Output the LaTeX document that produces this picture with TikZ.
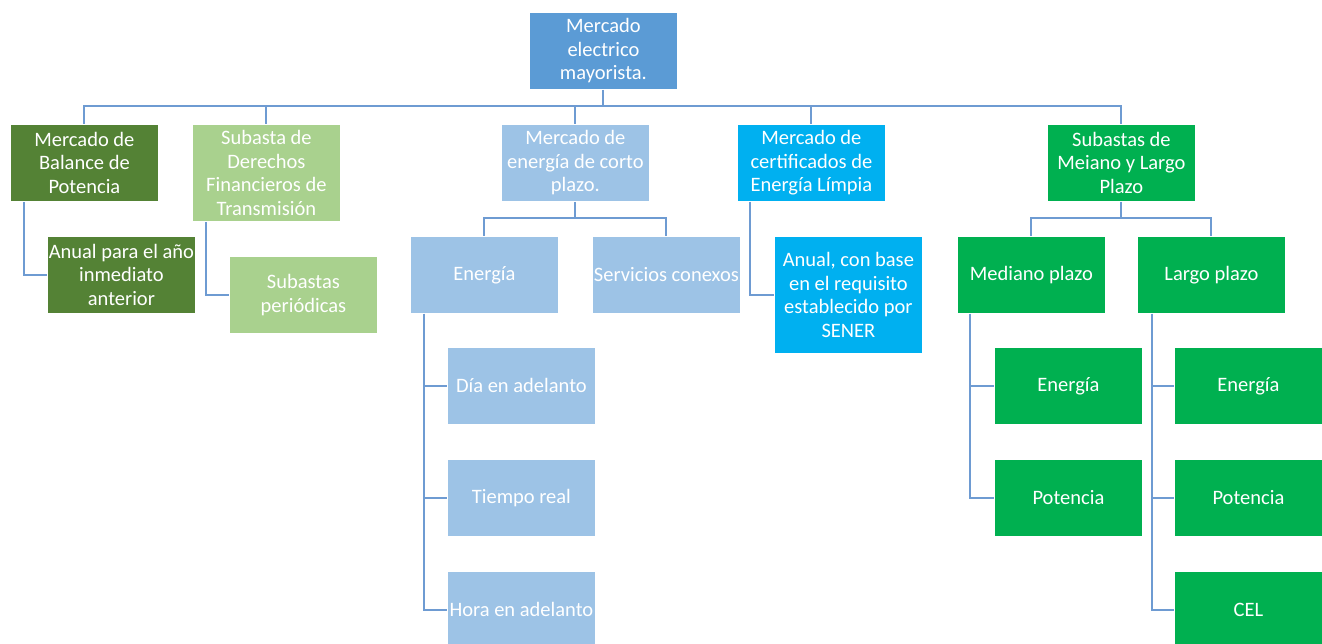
\documentclass[tikz,border=0pt]{standalone}
\usepackage{fontspec}
\setmainfont{Carlito}
\definecolor{cRoot}{HTML}{5B9BD5}
\definecolor{cA}{HTML}{548235}
\definecolor{cB}{HTML}{A9D18E}
\definecolor{cC}{HTML}{9DC3E6}
\definecolor{cD}{HTML}{00B0F0}
\definecolor{cE}{HTML}{00B050}
\definecolor{cLine}{RGB}{110,155,210}
\tikzset{
  box/.style={draw=white, line width=0.8pt, text=white, align=center, inner sep=0pt,
    minimum width=148pt, minimum height=77pt, anchor=north west,
    font=\fontsize{20.5}{23.5}\selectfont},
  conn/.style={draw=cLine, line width=2pt},
}
\begin{document}
\begin{tikzpicture}[x=1pt,y=-1pt]
\useasboundingbox (0,0) rectangle (1322,644);
% root
\node[box, fill=cRoot] (root) at (529,12) {Mercado\\electrico\\mayorista.};
% level 1
\node[box, fill=cA] (A) at (10,124) {Mercado de\\Balance de\\Potencia};
\node[box, fill=cB, minimum height=97pt] (B) at (192,124) {Subasta de\\Derechos\\Financieros de\\Transmisión};
\node[box, fill=cC] (C) at (501,124) {Mercado de\\energía de corto\\plazo.};
\node[box, fill=cD] (D) at (737,124) {Mercado de\\certificados de\\Energía Límpia};
\node[box, fill=cE] (E) at (1047,124) {Subastas de\\Meiano y Largo\\Plazo};
% level 2
\node[box, fill=cA] (A1) at (47,236) {Anual para el año\\inmediato\\anterior};
\node[box, fill=cB] (B1) at (229,256) {Subastas\\periódicas};
\node[box, fill=cC] (C1) at (410,236) {Energía};
\node[box, fill=cC] (C2) at (592,236) {Servicios conexos};
\node[box, fill=cD, minimum height=117pt] (D1) at (774,236) {Anual, con base\\en el requisito\\establecido por\\SENER};
\node[box, fill=cE] (E1) at (957,236) {Mediano plazo};
\node[box, fill=cE] (E2) at (1137,236) {Largo plazo};
% level 3
\node[box, fill=cC] (C11) at (447,347) {Día en adelanto};
\node[box, fill=cC] (C12) at (447,459) {Tiempo real};
\node[box, fill=cC] (C13) at (447,571) {Hora en adelanto};
\node[box, fill=cE] (E11) at (994,347) {Energía};
\node[box, fill=cE] (E12) at (994,459) {Potencia};
\node[box, fill=cE] (E21) at (1174,347) {Energía};
\node[box, fill=cE] (E22) at (1174,459) {Potencia};
\node[box, fill=cE] (E23) at (1174,571) {CEL};
% connectors
\coordinate (bus) at (root.south |- 0,106);
\draw[conn] (root.south) -- (bus);
\foreach \n in {A,B,C,D,E} {\draw[conn] (\n.north) |- (bus);}
\draw[conn] ([xshift=14pt]A.south west) |- (A1.west);
\draw[conn] ([xshift=14pt]B.south west) |- (B1.west);
\draw[conn] ([xshift=13pt]D.south west) |- (D1.west);
\coordinate (cbus) at (C.south |- 0,218);
\draw[conn] (C.south) -- (cbus);
\draw[conn] (C1.north) |- (cbus);
\draw[conn] (C2.north) |- (cbus);
\coordinate (ebus) at (E.south |- 0,218);
\draw[conn] (E.south) -- (ebus);
\draw[conn] (E1.north) |- (ebus);
\draw[conn] (E2.north) |- (ebus);
\foreach \c in {C11,C12,C13} {\draw[conn] ([xshift=14pt]C1.south west) |- (\c.west);}
\foreach \c in {E11,E12} {\draw[conn] ([xshift=13pt]E1.south west) |- (\c.west);}
\foreach \c in {E21,E22,E23} {\draw[conn] ([xshift=15pt]E2.south west) |- (\c.west);}
\end{tikzpicture}
\end{document}
